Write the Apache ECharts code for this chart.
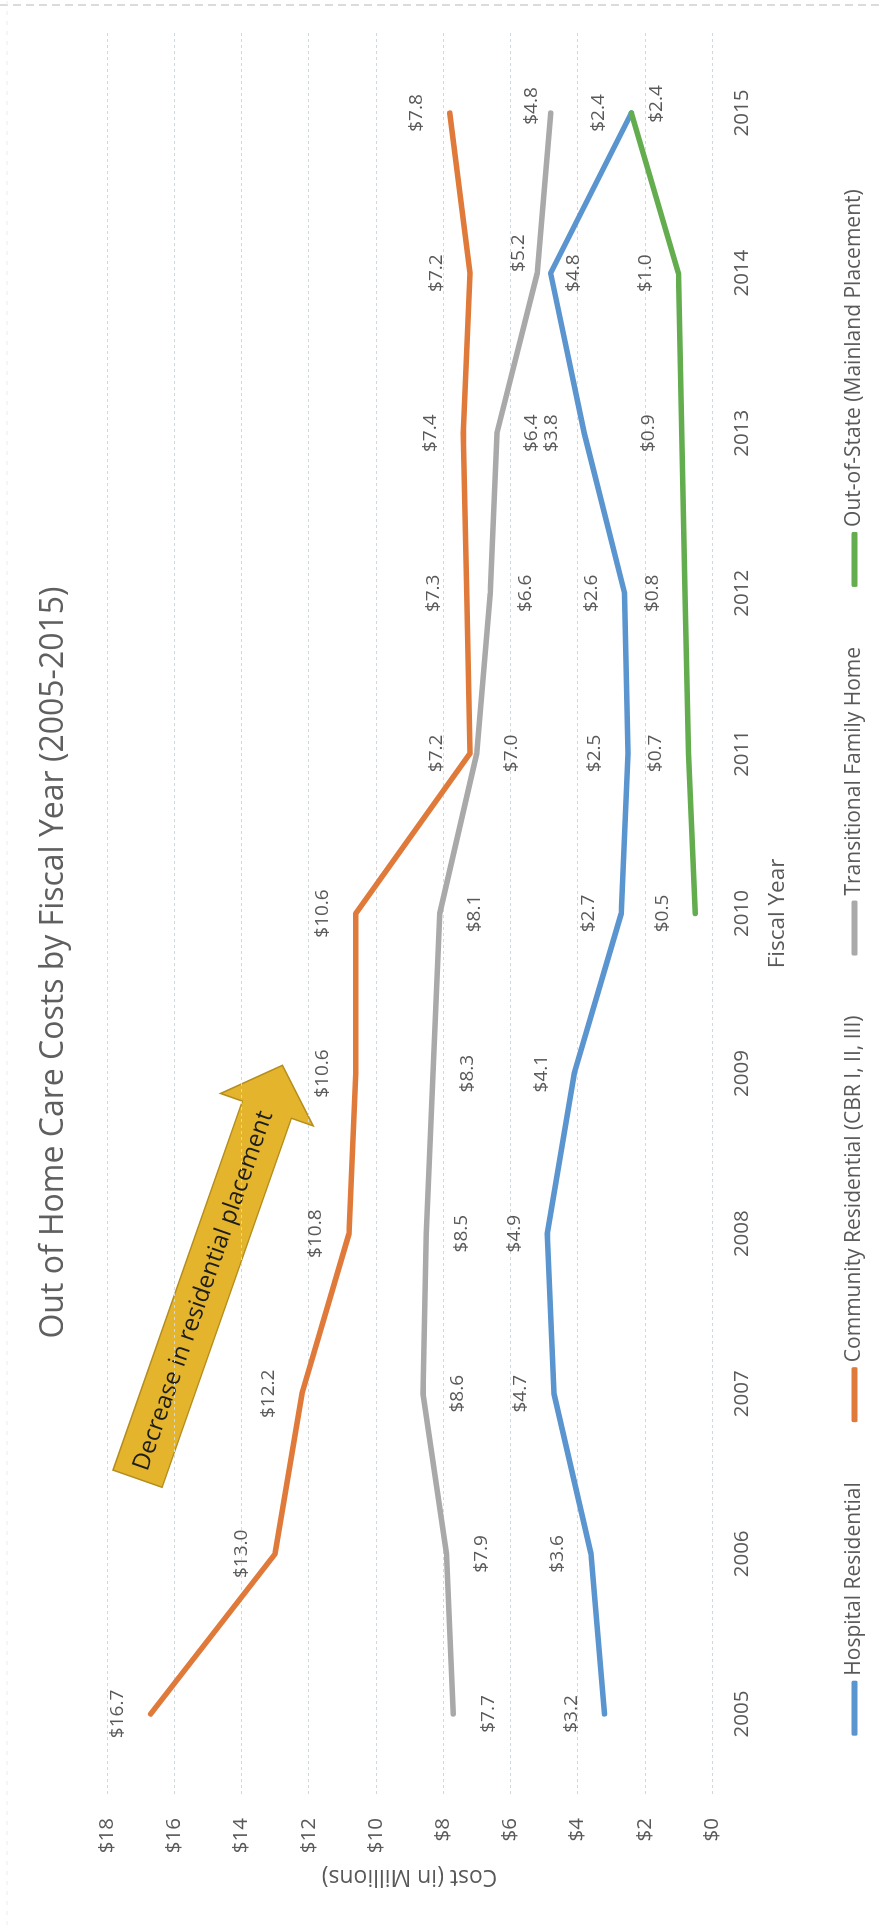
<!DOCTYPE html>
<html>
<head>
<meta charset="utf-8">
<script src="https://cdn.jsdelivr.net/npm/echarts@6/dist/echarts.min.js"></script>
<style>
  html, body { margin: 0; padding: 0; background: #ffffff; }
  #wrap { position: relative; width: 883px; height: 1925px; overflow: hidden; background: #ffffff; }
  #chart { position: absolute; left: 0; top: 0; width: 1925px; height: 883px;
           transform-origin: 0 0; transform: translateY(1925px) rotate(-90deg); }
</style>
</head>
<body>
<div id="wrap"><div id="chart"></div></div>
<script>
// ---- data ----
const years = ['2005','2006','2007','2008','2009','2010','2011','2012','2013','2014','2015'];
const hospital     = [3.2, 3.6, 4.7, 4.9, 4.1, 2.7, 2.5, 2.6, 3.8, 4.8, 2.4];
const community    = [16.7, 13.0, 12.2, 10.8, 10.6, 10.6, 7.2, 7.3, 7.4, 7.2, 7.8];
const transitional = [7.7, 7.9, 8.6, 8.5, 8.3, 8.1, 7.0, 6.6, 6.4, 5.2, 4.8];
const outOfState   = [null, null, null, null, null, 0.5, 0.7, 0.8, 0.9, 1.0, 2.4];
const seriesNames = ['Hospital Residential', 'Community Residential (CBR I, II, III)',
                     'Transitional Family Home', 'Out-of-State (Mainland Placement)'];
const titleText = 'Out of Home Care Costs by Fiscal Year (2005-2015)';
const arrowText = 'Decrease in residential placement';

// ---- styling ----
const FONT = 'Open Sans';
const TXT = '#595959';
const colors = ['#5B95CF', '#E07A3A', '#A8A9A8', '#63AD4F'];
// label placement per series, with per-year exceptions
const labelDefaults = [
  { position: 'top', distance: 22 },
  { position: 'top', distance: 22 },
  { position: 'bottom', distance: 24 },
  { position: 'top', distance: 22 }
];
const labelExceptions = [
  { '2014': { position: 'bottom', distance: 12 } },
  {},
  { '2014': { position: 'top', distance: 8, offset: [20, 0] }, '2015': { position: 'top', distance: 8, offset: [7, 0] } },
  { '2015': { position: 'bottom', distance: 14, offset: [9, 0] } }
];

function buildData(values, idx) {
  return values.map((v, i) => {
    if (v == null) return null;
    const ex = labelExceptions[idx][years[i]];
    return ex ? { value: v, label: ex } : v;
  });
}
const allValues = [hospital, community, transitional, outOfState];

const chart = echarts.init(document.getElementById('chart'), null, { renderer: 'canvas' });

const series = allValues.map((vals, idx) => ({
  name: seriesNames[idx],
  type: 'line',
  data: buildData(vals, idx),
  symbol: 'circle',
  symbolSize: 3,
  showSymbol: true,
  connectNulls: false,
  color: colors[idx],
  itemStyle: { color: colors[idx] },
  lineStyle: { width: 5.5, color: colors[idx], cap: 'round', join: 'round' },
  label: {
    show: true,
    position: labelDefaults[idx].position,
    distance: labelDefaults[idx].distance,
    formatter: p => '$' + Number(p.value).toFixed(1),
    fontFamily: FONT, fontSize: 19, color: TXT
  },
  z: 3 + idx
}));

// arrow annotation geometry (in chart frame, before page rotation)
const L = 219, HL = 47, SW = 26, HW = 49;
const option = {
  animation: false,
  backgroundColor: '#ffffff',
  textStyle: { fontFamily: FONT },
  title: {
    text: titleText,
    left: 'center',
    top: 33,
    textStyle: { fontFamily: FONT, fontSize: 32, fontWeight: 'normal', color: '#5f5f5f' }
  },
  legend: {
    data: seriesNames,
    left: 'center',
    top: 839,
    icon: 'roundRect',
    itemWidth: 55,
    itemHeight: 6,
    itemGap: 60,
    textStyle: { fontFamily: FONT, fontSize: 21, color: TXT }
  },
  grid: { left: 131, right: 33, top: 107, bottom: 171, containLabel: false },
  xAxis: {
    type: 'category',
    data: years,
    boundaryGap: true,
    axisLine: { show: false },
    axisTick: { show: false },
    axisLabel: { fontFamily: FONT, fontSize: 20.5, color: TXT, margin: 20 },
    name: 'Fiscal Year',
    nameLocation: 'middle',
    nameGap: 54,
    nameTextStyle: { fontFamily: FONT, fontSize: 22.5, color: TXT }
  },
  yAxis: {
    type: 'value',
    min: 0, max: 18, interval: 2,
    axisLine: { show: false },
    axisTick: { show: false },
    axisLabel: { fontFamily: FONT, fontSize: 20.5, color: TXT, margin: 24, formatter: v => '$' + v },
    splitLine: { show: true, lineStyle: { color: '#cfd8dc', width: 1, type: [3, 3] } },
    name: 'Cost (in Millions)',
    nameLocation: 'middle',
    nameGap: 71,
    nameTextStyle: { fontFamily: FONT, fontSize: 23, color: TXT }
  },
  series: series,
  graphic: [
    { type: 'line', shape: { x1: 1920, y1: 0, x2: 1920, y2: 883 },
      style: { stroke: '#d0d0d0', lineWidth: 1.5, lineDash: [8, 5] }, silent: true },
    { type: 'line', shape: { x1: 0, y1: 7, x2: 1925, y2: 7 },
      style: { stroke: '#ececec', lineWidth: 1, lineDash: [4, 6] }, silent: true },
    {
      type: 'group', x: 653, y: 210, rotation: -0.337, z: 100,
      children: [
        { type: 'polygon',
          shape: { points: [[-L, -SW], [L - HL, -SW], [L - HL, -HW], [L, 0], [L - HL, HW], [L - HL, SW], [-L, SW]] },
          style: { fill: '#E4B52C', stroke: '#B48D1C', lineWidth: 1.5 } },
        { type: 'text', x: -20, y: 0,
          style: { text: arrowText, fill: '#1d1d1d', font: '24px "Open Sans"', align: 'center', verticalAlign: 'middle' } }
      ]
    }
  ]
};
chart.setOption(option);
</script>
</body>
</html>
